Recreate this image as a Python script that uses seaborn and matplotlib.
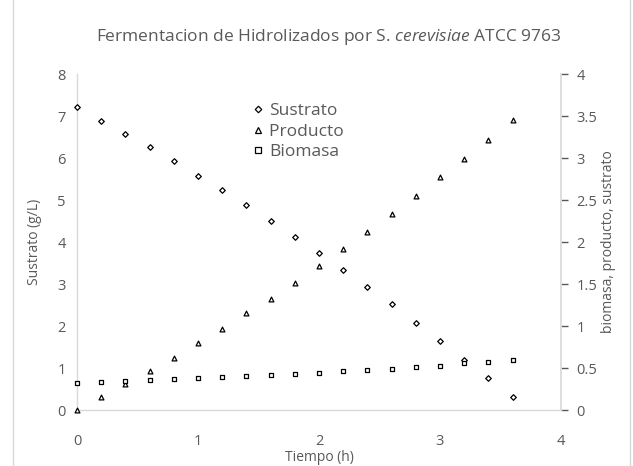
import matplotlib
matplotlib.use("Agg")
import matplotlib.pyplot as plt
import seaborn as sns
import pandas as pd
from matplotlib.lines import Line2D

# ---- data ----
tiempo = [0.0, 0.2, 0.4, 0.6, 0.8, 1.0, 1.2, 1.4, 1.6, 1.8, 2.0, 2.2, 2.4, 2.6, 2.8, 3.0, 3.2, 3.4, 3.6]
sustrato = [7.22, 6.89, 6.58, 6.26, 5.93, 5.58, 5.23, 4.89, 4.51, 4.11, 3.73, 3.33, 2.93, 2.52, 2.07, 1.64, 1.20, 0.77, 0.30]
producto = [0.00, 0.31, 0.62, 0.93, 1.25, 1.59, 1.94, 2.30, 2.65, 3.03, 3.43, 3.83, 4.23, 4.67, 5.09, 5.54, 5.97, 6.42, 6.90]
biomasa = [0.64, 0.66, 0.68, 0.71, 0.74, 0.76, 0.78, 0.81, 0.83, 0.86, 0.88, 0.93, 0.95, 0.97, 1.02, 1.05, 1.11, 1.14, 1.19]
series_names = ["Sustrato", "Producto ", "Biomasa"]
left_ticks = [0, 1, 2, 3, 4, 5, 6, 7, 8]
right_ticks = [0, 0.5, 1, 1.5, 2, 2.5, 3, 3.5, 4]
x_ticks = [0, 1, 2, 3, 4]

sns.set_theme(style="white")
plt.rcParams["font.family"] = ["Open Sans", "DejaVu Sans"]
plt.rcParams["mathtext.fontset"] = "custom"
plt.rcParams["mathtext.rm"] = "Open Sans"
plt.rcParams["mathtext.it"] = "Open Sans:italic"

grey = "#595959"
spine_c = "#d9d9d9"

df = pd.DataFrame({
    "t": tiempo * 3,
    "v": sustrato + producto + biomasa,
    "serie": [series_names[0]] * len(tiempo) + [series_names[1]] * len(tiempo) + [series_names[2]] * len(tiempo),
})

fig = plt.figure(figsize=(6.33, 4.66), dpi=100)
ax = fig.add_axes([77 / 633, 56 / 466, (561 - 77) / 633, (410 - 74) / 466])

markers = {series_names[0]: "D", series_names[1]: "^", series_names[2]: "s"}
sizes = {series_names[0]: 8, series_names[1]: 12, series_names[2]: 12}
for name in series_names:
    sub = df[df["serie"] == name]
    sns.scatterplot(data=sub, x="t", y="v", marker=markers[name], s=sizes[name],
                    facecolor="white", edgecolor="black", linewidth=0.9, ax=ax, zorder=4,
                    clip_on=False)

ax.set_xlim(0, 4)
ax.set_ylim(0, 8)
ax.set_xticks(x_ticks)
ax.set_yticks(left_ticks)
ax.tick_params(axis="y", colors=grey, labelsize=10.5, length=0, pad=8)
ax.tick_params(axis="x", colors=grey, labelsize=10.5, length=0, pad=17)
for s in ["top", "right"]:
    ax.spines[s].set_visible(False)
for s in ["left", "bottom"]:
    ax.spines[s].set_color(spine_c)
    ax.spines[s].set_linewidth(1.0)
    ax.spines[s].set_zorder(1)
ax.set_xlabel("Tiempo (h)", color=grey, fontsize=10, labelpad=1)
ax.set_ylabel("Sustrato (g/L)", color=grey, fontsize=10, labelpad=11)
ax.grid(False)

ax2 = ax.twinx()
ax2.set_ylim(0, 4)
ax2.set_yticks(right_ticks)
ax2.set_yticklabels(["0", "0.5", "1", "1.5", "2", "2.5", "3", "3.5", "4"])
ax2.tick_params(axis="y", colors=grey, labelsize=10.5, length=5, width=1, pad=6, direction="out")
for t in ax2.yaxis.get_ticklines():
    t.set_color(spine_c)
for s in ["top", "left", "bottom"]:
    ax2.spines[s].set_visible(False)
ax2.spines["right"].set_color(spine_c)
ax2.set_ylabel("biomasa, producto, sustrato", color=grey, fontsize=10, labelpad=3)
ax2.grid(False)
ax.set_zorder(ax2.get_zorder() + 1)
ax.patch.set_visible(False)

handles = [Line2D([], [], linestyle="none", marker=markers[n], markersize=3.3 if n == series_names[0] else 4,
                  markerfacecolor="white", markeredgecolor="black", markeredgewidth=0.9) for n in series_names]
leg = ax.legend(handles, series_names, loc="upper left", bbox_to_anchor=(0.332, 0.96), frameon=False,
                fontsize=12.5, handlelength=0.5, handletextpad=0.4, labelspacing=0.25)
for txt in leg.get_texts():
    txt.set_color(grey)

fig.text(0.52, 0.92, r"Fermentacion de Hidrolizados por S. $\it{cerevisiae}$ ATCC 9763",
         ha="center", va="center", color=grey, fontsize=12.5)

# chart-area border lines
fig.add_artist(Line2D([13 / 633, 13 / 633], [0, 1], transform=fig.transFigure, color=spine_c, lw=1))
fig.add_artist(Line2D([630 / 633, 630 / 633], [0, 1], transform=fig.transFigure, color=spine_c, lw=1))

fig.savefig("out.png", dpi=100)
